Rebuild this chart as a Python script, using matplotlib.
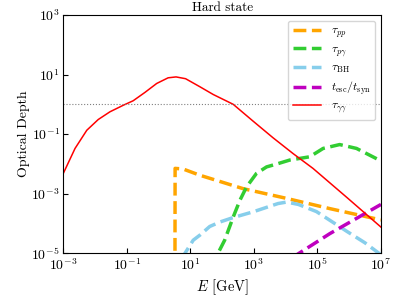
import numpy as np
import matplotlib
matplotlib.use('Agg')
import matplotlib.pyplot as plt

# Computer Modern look (matplotlib ships cmr10)
plt.rcParams['font.family'] = 'serif'
plt.rcParams['font.serif'] = ['cmr10', 'DejaVu Serif']
plt.rcParams['mathtext.fontset'] = 'cm'
plt.rcParams['axes.formatter.use_mathtext'] = True

# values, as log10(E [GeV]) and log10(tau)
logE_gg = [-3.0, -2.63, -2.26, -1.90, -1.53, -1.11, -0.80, -0.43, -0.06, 0.30,
           0.55, 0.85, 1.30, 1.72, 2.35, 2.97, 3.60, 4.23, 4.86, 5.91, 7.0]
logt_gg = [-2.32, -1.48, -0.87, -0.51, -0.25, -0.03, 0.12, 0.40, 0.70, 0.89,
           0.92, 0.86, 0.59, 0.33, 0.0, -0.56, -1.12, -1.65, -2.15, -3.11, -4.12]

logE_pp = [0.51, 0.52, 0.77, 1.30, 2.66, 4.00, 5.39, 7.0]
logt_pp = [-9.0, -2.15, -2.17, -2.38, -2.83, -3.15, -3.50, -3.88]

logE_pg = [1.75, 1.87, 2.08, 2.35, 2.56, 2.77, 3.08, 3.40, 3.76, 4.13,
           4.76, 5.18, 5.70, 6.23, 7.0]
logt_pg = [-5.5, -5.0, -4.56, -3.78, -3.22, -2.77, -2.32, -2.10, -1.99, -1.87,
           -1.76, -1.48, -1.35, -1.48, -1.90]

logE_bh = [0.75, 0.83, 1.09, 1.30, 1.61, 1.93, 2.35, 2.97, 3.76, 4.03,
           4.40, 4.97, 5.95, 6.50, 7.0]
logt_bh = [-5.2, -5.0, -4.56, -4.39, -4.10, -3.95, -3.80, -3.61, -3.33, -3.28,
           -3.36, -3.60, -4.28, -4.65, -5.05]

logE_syn = [4.2, 5.39, 7.0]
logt_syn = [-5.15, -4.34, -3.36]

xticks = [1e-3, 1e-1, 1e1, 1e3, 1e5, 1e7]
yticks = [1e-5, 1e-3, 1e-1, 1e1, 1e3]

E_gg = 10.0 ** np.array(logE_gg)
tau_gg = 10.0 ** np.array(logt_gg)
E_pp = 10.0 ** np.array(logE_pp)
tau_pp = 10.0 ** np.array(logt_pp)
E_pg = 10.0 ** np.array(logE_pg)
tau_pg = 10.0 ** np.array(logt_pg)
E_bh = 10.0 ** np.array(logE_bh)
tau_bh = 10.0 ** np.array(logt_bh)
E_syn = 10.0 ** np.array(logE_syn)
ratio_syn = 10.0 ** np.array(logt_syn)

fig = plt.figure(figsize=(4.07, 3.05), dpi=100)
ax = fig.add_axes([0.1555, 0.1695, 0.7805, 0.7815])

ax.plot(E_pp, tau_pp, '--', color='orange', lw=2.5, label=r'$\tau_{pp}$')
ax.plot(E_pg, tau_pg, '--', color='limegreen', lw=2.5, label=r'$\tau_{p\gamma}$')
ax.plot(E_bh, tau_bh, '--', color='skyblue', lw=2.5, label=r'$\tau_{\rm BH}$')
ax.plot(E_syn, ratio_syn, '--', color='m', lw=2.5, label=r'$t_{\rm esc}/t_{\rm syn}$')
ax.plot(E_gg, tau_gg, '-', color='red', lw=1.1, label=r'$\tau_{\gamma\gamma}$')
ax.axhline(1.0, color='gray', ls=':', lw=0.8)

ax.set_xscale('log')
ax.set_yscale('log')
ax.set_xlim(1e-3, 1e7)
ax.set_ylim(1e-5, 1e3)
ax.set_xticks(xticks)
ax.set_yticks(yticks)
ax.minorticks_off()
ax.tick_params(labelsize=10, direction='in', pad=2.5)

ax.set_xlabel(r'$E$ [GeV]', fontsize=10.5, labelpad=3)
ax.set_ylabel('Optical Depth', fontsize=10, labelpad=1)
ax.set_title('Hard state', fontsize=9.5, pad=3)
ax.legend(loc='upper right', fontsize=8.5, handlelength=2.4, labelspacing=0.35)

fig.savefig('out.png', dpi=100)
